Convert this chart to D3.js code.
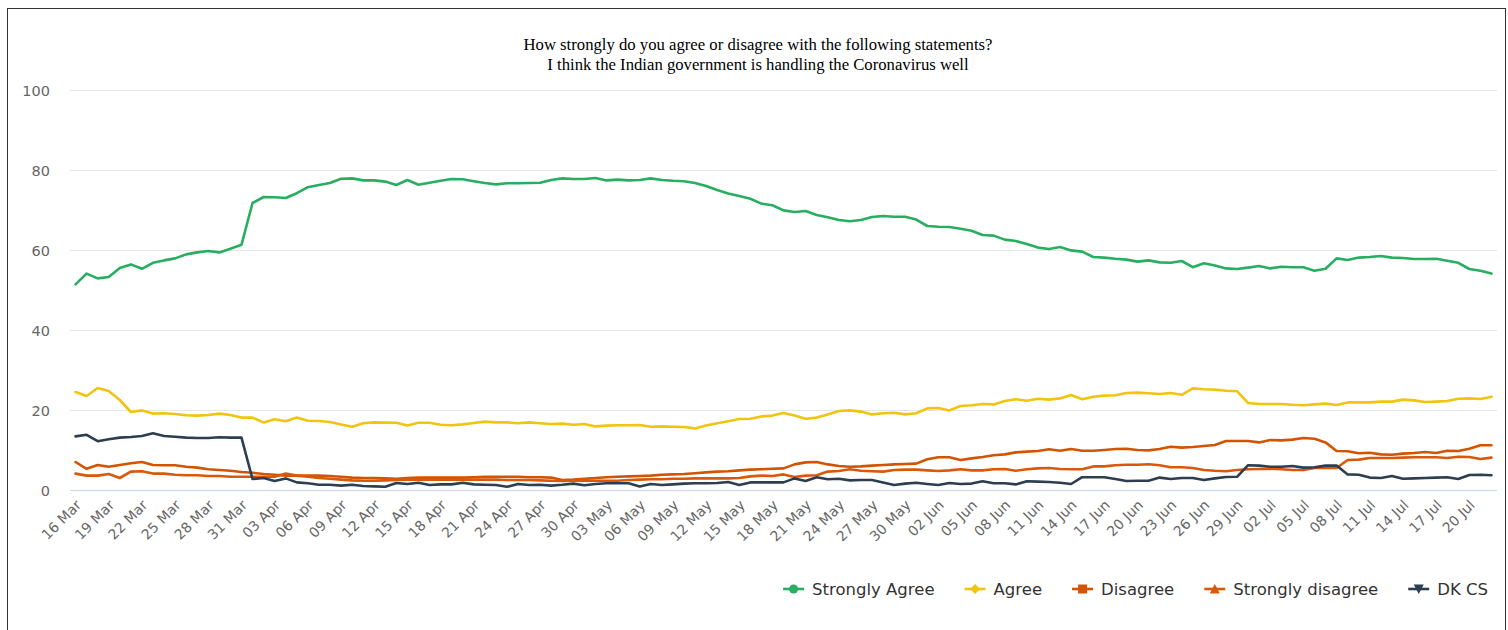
<!DOCTYPE html>
<html>
<head>
<meta charset="utf-8">
<script src="https://cdn.jsdelivr.net/npm/d3@7/dist/d3.min.js"></script>
<style>
  html, body { margin: 0; padding: 0; background: #fff; }
  svg { display: block; }
</style>
</head>
<body>
<svg id="chart" width="1508" height="630"></svg>
<script>
// ---------- DATA ----------
const categories = [
  "16 Mar","17 Mar","18 Mar","19 Mar","20 Mar","21 Mar","22 Mar","23 Mar","24 Mar","25 Mar","26 Mar","27 Mar","28 Mar","29 Mar","30 Mar","31 Mar",
  "01 Apr","02 Apr","03 Apr","04 Apr","05 Apr","06 Apr","07 Apr","08 Apr","09 Apr","10 Apr","11 Apr","12 Apr","13 Apr","14 Apr","15 Apr",
  "16 Apr","17 Apr","18 Apr","19 Apr","20 Apr","21 Apr","22 Apr","23 Apr","24 Apr","25 Apr","26 Apr","27 Apr","28 Apr","29 Apr","30 Apr",
  "01 May","02 May","03 May","04 May","05 May","06 May","07 May","08 May","09 May","10 May","11 May","12 May","13 May","14 May","15 May","16 May",
  "17 May","18 May","19 May","20 May","21 May","22 May","23 May","24 May","25 May","26 May","27 May","28 May","29 May","30 May","31 May",
  "01 Jun","02 Jun","03 Jun","04 Jun","05 Jun","06 Jun","07 Jun","08 Jun","09 Jun","10 Jun","11 Jun","12 Jun","13 Jun","14 Jun","15 Jun",
  "16 Jun","17 Jun","18 Jun","19 Jun","20 Jun","21 Jun","22 Jun","23 Jun","24 Jun","25 Jun","26 Jun","27 Jun","28 Jun","29 Jun","30 Jun",
  "01 Jul","02 Jul","03 Jul","04 Jul","05 Jul","06 Jul","07 Jul","08 Jul","09 Jul","10 Jul","11 Jul","12 Jul","13 Jul","14 Jul","15 Jul",
  "16 Jul","17 Jul","18 Jul","19 Jul","20 Jul","21 Jul","22 Jul"
];

const stronglyAgree = [
  51.4,54.1,52.9,53.25,55.5,56.4,55.3,56.8,57.4,57.9,58.9,59.4,59.75,59.4,60.3,61.3,
  71.75,73.25,73.2,73.0,74.2,75.7,76.25,76.75,77.8,77.9,77.4,77.4,77.1,76.25,77.5,
  76.3,76.8,77.3,77.75,77.7,77.2,76.75,76.4,76.7,76.7,76.75,76.8,77.5,77.9,77.75,
  77.75,78.0,77.4,77.6,77.4,77.5,77.9,77.5,77.3,77.2,76.75,76.0,75.0,74.1,73.5,72.8,
  71.6,71.2,69.9,69.5,69.75,68.75,68.2,67.5,67.2,67.5,68.25,68.5,68.3,68.3,67.6,
  66.0,65.8,65.75,65.3,64.8,63.75,63.6,62.6,62.25,61.5,60.6,60.25,60.75,59.9,59.6,
  58.25,58.1,57.8,57.6,57.1,57.4,56.9,56.8,57.25,55.7,56.7,56.1,55.4,55.25,55.6,
  56.0,55.4,55.8,55.7,55.7,54.8,55.3,57.9,57.5,58.1,58.25,58.5,58.1,58.0,57.75,
  57.75,57.8,57.3,56.8,55.25,54.8,54.1
];

const agree = [
  24.5,23.5,25.5,24.75,22.5,19.5,19.9,19.1,19.2,19.0,18.7,18.6,18.75,19.1,18.75,18.1,
  18.1,16.9,17.7,17.2,18.1,17.3,17.25,17.0,16.4,15.8,16.7,16.9,16.85,16.8,16.1,
  16.8,16.8,16.3,16.2,16.4,16.75,17.1,16.9,16.9,16.7,16.9,16.7,16.5,16.6,16.3,
  16.5,15.9,16.1,16.2,16.2,16.25,15.8,15.9,15.8,15.75,15.4,16.1,16.7,17.2,17.75,17.8,
  18.4,18.6,19.25,18.6,17.8,18.1,18.9,19.75,19.9,19.6,18.9,19.2,19.3,18.9,19.2,
  20.4,20.5,19.9,21.0,21.2,21.5,21.4,22.25,22.7,22.3,22.8,22.6,22.9,23.75,22.7,
  23.3,23.6,23.7,24.25,24.35,24.2,24.0,24.25,23.8,25.4,25.2,25.1,24.8,24.7,21.75,
  21.5,21.5,21.5,21.3,21.2,21.4,21.6,21.25,21.9,21.9,21.9,22.1,22.1,22.6,22.4,
  22.0,22.1,22.25,22.8,22.9,22.75,23.3
];

const disagree = [
  7.0,5.3,6.25,5.8,6.25,6.7,7.0,6.25,6.2,6.2,5.8,5.6,5.2,5.0,4.8,4.5,
  4.3,4.0,3.8,3.6,3.6,3.6,3.6,3.5,3.3,3.1,3.0,3.0,2.9,2.8,3.0,
  3.1,3.1,3.1,3.1,3.1,3.2,3.3,3.3,3.3,3.3,3.2,3.2,3.1,2.5,2.6,
  2.8,3.0,3.2,3.3,3.4,3.5,3.6,3.8,3.9,4.0,4.2,4.4,4.6,4.7,4.9,5.1,
  5.2,5.3,5.4,6.4,6.9,7.0,6.4,6.0,5.8,5.9,6.1,6.25,6.4,6.5,6.6,
  7.7,8.2,8.2,7.5,7.9,8.25,8.7,8.9,9.4,9.6,9.75,10.2,9.8,10.25,9.8,
  9.8,10.0,10.25,10.3,10.0,9.9,10.25,10.8,10.6,10.75,11.0,11.25,12.25,12.25,12.25,
  11.9,12.5,12.4,12.6,13.0,12.8,11.9,9.75,9.7,9.2,9.3,8.9,8.8,9.1,9.25,
  9.5,9.25,9.8,9.75,10.3,11.2,11.2
];

const stronglyDisagree = [
  4.1,3.6,3.6,4.0,3.0,4.6,4.7,4.1,4.1,3.8,3.7,3.7,3.5,3.5,3.3,3.3,
  3.3,3.3,3.3,4.1,3.6,3.3,3.0,2.8,2.6,2.4,2.3,2.3,2.4,2.5,2.6,
  2.6,2.6,2.6,2.6,2.6,2.6,2.6,2.6,2.5,2.5,2.5,2.4,2.3,2.25,2.3,
  2.4,2.3,2.3,2.3,2.5,2.6,2.7,2.7,2.8,2.8,2.9,2.9,2.9,2.9,3.0,3.4,
  3.6,3.5,3.9,3.25,3.6,3.7,4.6,4.75,5.2,4.8,4.7,4.6,5.0,5.1,5.1,
  4.9,4.75,4.9,5.2,4.9,4.9,5.2,5.25,4.8,5.2,5.4,5.5,5.25,5.2,5.2,
  5.9,5.9,6.2,6.3,6.3,6.45,6.2,5.7,5.7,5.5,5.0,4.8,4.7,5.0,5.2,
  5.25,5.3,5.2,5.0,5.0,5.5,5.5,5.5,7.5,7.6,8.0,8.0,8.0,8.1,8.2,
  8.2,8.2,8.0,8.3,8.25,7.75,8.1
];

const dkcs = [
  13.4,13.8,12.2,12.7,13.1,13.25,13.5,14.2,13.5,13.3,13.1,13.0,13.0,13.2,13.1,13.1,
  2.75,3.0,2.25,2.9,1.9,1.7,1.3,1.3,1.1,1.3,1.0,0.9,0.8,1.75,1.5,
  1.8,1.25,1.4,1.4,1.8,1.4,1.3,1.25,0.8,1.5,1.25,1.3,1.1,1.3,1.6,
  1.2,1.5,1.7,1.7,1.7,0.9,1.5,1.25,1.4,1.6,1.7,1.7,1.75,2.0,1.25,1.9,
  1.9,1.9,1.9,2.9,2.25,3.2,2.7,2.8,2.4,2.5,2.5,1.9,1.25,1.6,1.8,
  1.5,1.25,1.75,1.5,1.6,2.2,1.7,1.7,1.4,2.2,2.1,2.0,1.8,1.5,3.2,
  3.2,3.2,2.75,2.25,2.3,2.3,3.1,2.75,3.0,3.0,2.5,2.9,3.25,3.3,6.2,
  6.1,5.8,5.8,6.0,5.6,5.7,6.1,6.1,3.9,3.8,3.1,3.0,3.5,2.8,2.9,
  3.0,3.1,3.2,2.75,3.75,3.8,3.7
];

const yTicks = [0, 20, 40, 60, 80, 100];
const titleLines = [
  "How strongly do you agree or disagree with the following statements?",
  "I think the Indian government is handling the Coronavirus well"
];

const seriesNames = ["Strongly Agree", "Agree", "Disagree", "Strongly disagree", "DK CS"];
const seriesData = [stronglyAgree, agree, disagree, stronglyDisagree, dkcs];
const seriesColors = ["#27ae60", "#f1c40f", "#d35400", "#d9580a", "#2c3e50"];
const seriesSymbols = ["circle", "diamond", "square", "triangle", "triangle-down"];

// ---------- LAYOUT ----------
const W = 1508, H = 630;
const plot = { left: 70, right: 1497, top: 90, bottom: 490 };
const font = "'DejaVu Sans', 'Lucida Grande', Verdana, sans-serif";

const svg = d3.select("#chart");
svg.append("rect").attr("x", 0).attr("y", 0).attr("width", W).attr("height", H).attr("fill", "#fff");
// outer frame
svg.append("rect")
  .attr("x", 7.5).attr("y", 8.5).attr("width", W - 10).attr("height", H + 20)
  .attr("fill", "none").attr("stroke", "#333").attr("stroke-width", 1);

const x = d3.scalePoint().domain(categories).range([plot.left, plot.right]).padding(0.5);
const y = d3.scaleLinear().domain([0, 100]).range([plot.bottom, plot.top]);

// title
svg.append("g").selectAll("text").data(titleLines).join("text")
  .attr("x", 758).attr("y", (d, i) => 50 + i * 20)
  .attr("text-anchor", "middle")
  .attr("font-family", "'Liberation Serif', 'Times New Roman', serif")
  .attr("font-size", 16.7)
  .attr("fill", "#000")
  .text(d => d);

// y grid + labels
const yAxis = d3.axisLeft(y).tickValues(yTicks).tickSize(-(plot.right - plot.left)).tickPadding(20);
const gy = svg.append("g").attr("transform", `translate(${plot.left},0)`).call(yAxis);
gy.select(".domain").remove();
gy.selectAll(".tick line").attr("stroke", "#e6e6e6").attr("stroke-width", 1);
gy.selectAll(".tick text").attr("fill", "#666").attr("font-size", 14.5).attr("font-family", font)
  .attr("dy", "0.35em");

// x axis
const tickCats = categories.filter((d, i) => i % 3 === 0);
const xAxis = d3.axisBottom(x).tickValues(tickCats).tickSize(0);
const gx = svg.append("g").attr("transform", `translate(0,${plot.bottom})`).call(xAxis);
gx.select(".domain").attr("stroke", "#ccd6eb").attr("stroke-width", 1)
  .attr("d", `M${plot.left},0.5H${plot.right}`);
gx.selectAll(".tick text")
  .attr("fill", "#666").attr("font-size", 14).attr("font-family", font)
  .attr("text-anchor", "end").attr("dy", null).attr("y", 0)
  .attr("transform", "translate(6,16) rotate(-45)");

// lines
const line = d3.line().x((d, i) => x(categories[i])).y(d => y(d));
const gl = svg.append("g");
seriesData.forEach((s, k) => {
  gl.append("path").datum(s)
    .attr("fill", "none").attr("stroke", seriesColors[k]).attr("stroke-width", 2.6)
    .attr("stroke-linejoin", "round").attr("stroke-linecap", "round")
    .attr("d", line);
});

// legend
const symbolPath = (type) => {
  if (type === "circle") return d3.symbol(d3.symbolCircle, 64)();
  if (type === "diamond") return "M0,-5L5,0L0,5L-5,0Z";
  if (type === "square") return "M-4.5,-4.5H4.5V4.5H-4.5Z";
  if (type === "triangle") return "M0,-5L5,4.5H-5Z";
  return "M-5,-4.5H5L0,5Z";
};
const lg = svg.append("g");
const legendY = 589;
const items = [];
seriesNames.forEach((name, k) => {
  const g = lg.append("g");
  g.append("line").attr("x1", 0).attr("x2", 21).attr("y1", 0).attr("y2", 0)
    .attr("stroke", seriesColors[k]).attr("stroke-width", 2.6);
  g.append("path").attr("d", symbolPath(seriesSymbols[k])).attr("transform", "translate(10.5,0)")
    .attr("fill", seriesColors[k]);
  const t = g.append("text").attr("x", 29).attr("y", 0).attr("dy", "0.35em")
    .attr("font-family", font).attr("font-size", 16.5).attr("fill", "#333").text(name);
  items.push({ g, w: 29 + t.node().getComputedTextLength() });
});
const gap = 30;
const totalW = d3.sum(items, d => d.w) + gap * (items.length - 1);
let cx = 1488 - totalW;
items.forEach(it => {
  it.g.attr("transform", `translate(${cx},${legendY})`);
  cx += it.w + gap;
});
</script>
</body>
</html>
